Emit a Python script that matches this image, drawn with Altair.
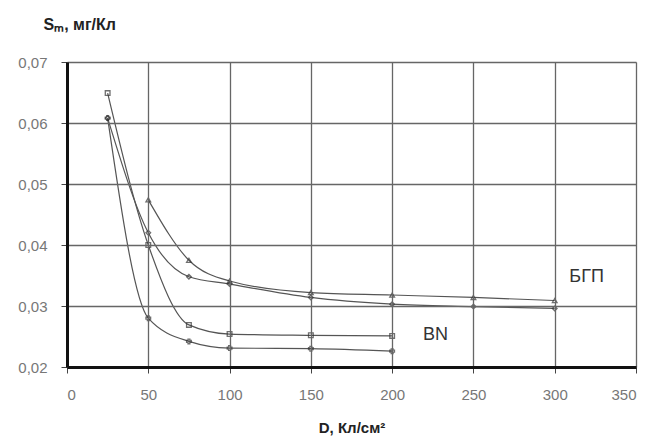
import altair as alt
import pandas as pd

# series data
bn1_x = [25, 50, 75, 100, 150, 200]
bn1_y = [0.0649, 0.0400, 0.0269, 0.0254, 0.0252, 0.0251]
bn2_x = [25, 50, 75, 100, 150, 200]
bn2_y = [0.0608, 0.0280, 0.0242, 0.0231, 0.0230, 0.0226]
bgp1_x = [50, 75, 100, 150, 200, 250, 300]
bgp1_y = [0.0474, 0.0375, 0.0341, 0.0322, 0.0318, 0.0314, 0.0309]
bgp2_x = [25, 50, 75, 100, 150, 200, 250, 300]
bgp2_y = [0.0608, 0.0420, 0.0348, 0.0336, 0.0314, 0.0303, 0.0299, 0.0296]

x_ticks = [0, 50, 100, 150, 200, 250, 300, 350]
y_ticks = [0.02, 0.03, 0.04, 0.05, 0.06, 0.07]

label_text = ["БГП", "BN"]
label_x = [309, 219]
label_y = [0.0347, 0.0253]

series = [
    ("BN1", bn1_x, bn1_y, "square"),
    ("BN2", bn2_x, bn2_y, "cross"),
    ("BGP1", bgp1_x, bgp1_y, "triangle-up"),
    ("BGP2", bgp2_x, bgp2_y, "diamond"),
]
rows = []
for name, xs, ys, shp in series:
    for i, (x, y) in enumerate(zip(xs, ys)):
        rows.append({"s": name, "D": x, "S": y, "shape": shp, "o": i})
df = pd.DataFrame(rows)

labels = pd.DataFrame({"D": label_x, "S": label_y, "t": label_text})

FONT = "Liberation Sans"
xs = alt.X("D:Q", scale=alt.Scale(domain=[0, 350], nice=False),
           axis=alt.Axis(values=x_ticks, title="D, Кл/см²", titleFontWeight="bold",
                         titleFontSize=15, titleColor="#222", titlePadding=18,
                         labelColor="#777", labelFontSize=15, labelPadding=14,
                         tickColor="#444", tickSize=6, domainColor="#111", domainWidth=3,
                         gridColor="#666", gridWidth=1.3, labelFont=FONT,
                         titleFont=FONT, zindex=1))
ys = alt.Y("S:Q", scale=alt.Scale(domain=[0.02, 0.07], nice=False, zero=False),
           axis=alt.Axis(values=y_ticks, title="Sₘ, мг/Кл", titleAngle=0, titleAlign="left",
                         titleBaseline="middle",
                         titleX=-24, titleY=-38, titleFontWeight="bold", titleFontSize=16,
                         titleColor="#222",
                         labelExpr="replace(format(datum.value, '.2f'), '.', ',')",
                         labelColor="#777", labelFontSize=15, labelPadding=14,
                         tickColor="#444", tickSize=6, domainColor="#111", domainWidth=3,
                         gridColor="#666", gridWidth=1.3, labelFont=FONT,
                         titleFont=FONT, zindex=1))

lines = alt.Chart(df).mark_line(interpolate="monotone", color="#555", strokeWidth=1.2).encode(
    x=xs, y=ys, detail="s:N", order="o:Q")

pts = alt.Chart(df).mark_point(size=22, color="#333", strokeWidth=1.3, filled=False).encode(
    x="D:Q", y="S:Q",
    shape=alt.Shape("shape:N", scale=None, legend=None))

txt = alt.Chart(labels).mark_text(fontSize=18, font=FONT, color="#333",
                                  align="left", baseline="middle").encode(
    x="D:Q", y="S:Q", text="t:N")

chart = alt.layer(lines, pts, txt).properties(
    width=569, height=305,
    padding={"left": 67, "top": 62, "right": 16, "bottom": 75},
    autosize=alt.AutoSizeParams(type="none"),
).configure_view(strokeWidth=0).configure(background="white")

chart.save("out.html", embed_options={"renderer": "svg", "actions": False})
